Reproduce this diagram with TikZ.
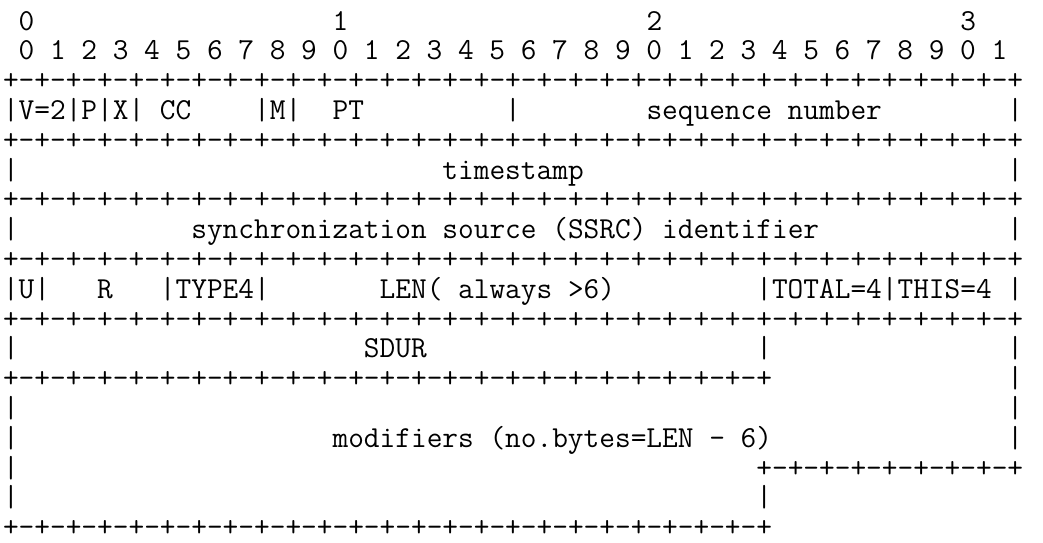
\documentclass[tikz,border=0pt]{standalone}
\usepackage{fontspec}
\ExplSyntaxOn
\NewDocumentCommand\ruler{m}{\prg_replicate:nn{#1}{+-}+}
\ExplSyntaxOff
\newcommand\gp[1]{\hspace*{\dimexpr #1\fontcharwd\font`0\relax}}
\frenchspacing
\tikzset{txtline/.style={anchor=base west, inner sep=0pt, outer sep=0pt,
  font=\ttfamily\fontsize{30.476pt}{30pt}\selectfont, text=black}}
\begin{document}
\begin{tikzpicture}[x=1pt,y=1pt]
\fill[white] (0,0) rectangle (1043,-542);
\useasboundingbox (0,0) rectangle (1043,-542);
\node[txtline] (l1) at (3,-30.0) {\gp{1}0\gp{19}1\gp{19}2\gp{19}3};
\node[txtline] (l2) at (3,-59.8) {\gp{1}0\gp{1}1\gp{1}2\gp{1}3\gp{1}4\gp{1}5\gp{1}6\gp{1}7\gp{1}8\gp{1}9\gp{1}0\gp{1}1\gp{1}2\gp{1}3\gp{1}4\gp{1}5\gp{1}6\gp{1}7\gp{1}8\gp{1}9\gp{1}0\gp{1}1\gp{1}2\gp{1}3\gp{1}4\gp{1}5\gp{1}6\gp{1}7\gp{1}8\gp{1}9\gp{1}0\gp{1}1};
\node[txtline] (l3) at (3,-89.6) {\ruler{32}};
\node[txtline] (l4) at (3,-119.4) {|V=2|P|X|\gp{1}CC\gp{4}|M|\gp{2}PT\gp{9}|\gp{8}sequence\gp{1}number\gp{8}|};
\node[txtline] (l5) at (3,-149.2) {\ruler{32}};
\node[txtline] (l6) at (3,-179.0) {|\gp{27}timestamp\gp{27}|};
\node[txtline] (l7) at (3,-208.8) {\ruler{32}};
\node[txtline] (l8) at (3,-238.6) {|\gp{11}synchronization\gp{1}source\gp{1}(SSRC)\gp{1}identifier\gp{12}|};
\node[txtline] (l9) at (3,-268.4) {\ruler{32}};
\node[txtline] (l10) at (3,-298.2) {|U|\gp{3}R\gp{3}|TYPE4|\gp{7}LEN(\gp{1}always\gp{1}>6)\gp{9}|TOTAL=4|THIS=4\gp{1}|};
\node[txtline] (l11) at (3,-328.0) {\ruler{32}};
\node[txtline] (l12) at (3,-357.8) {|\gp{22}SDUR\gp{21}|\gp{15}|};
\node[txtline] (l13) at (3,-387.6) {\ruler{24}\gp{15}|};
\node[txtline] (l14) at (3,-417.4) {|\gp{63}|};
\node[txtline] (l15) at (3,-447.2) {|\gp{20}modifiers\gp{1}(no.bytes=LEN\gp{1}-\gp{1}6)\gp{15}|};
\node[txtline] (l16) at (3,-477.0) {|\gp{47}\ruler{8}};
\node[txtline] (l17) at (3,-506.8) {|\gp{47}|};
\node[txtline] (l18) at (3,-536.6) {\ruler{24}};
\end{tikzpicture}
\end{document}
